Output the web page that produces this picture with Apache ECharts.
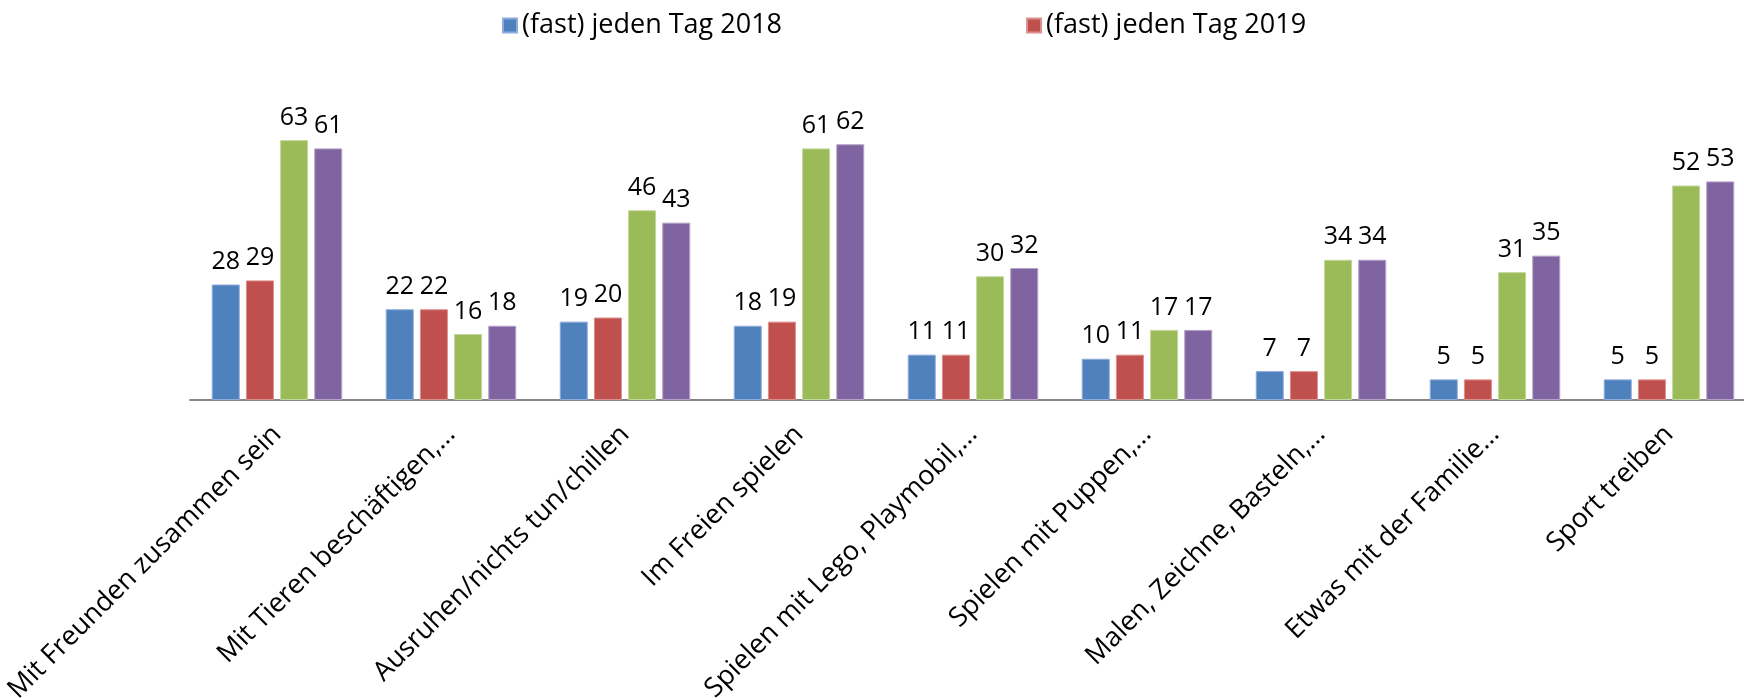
<!DOCTYPE html>
<html>
<head>
<meta charset="utf-8">
<script src="https://cdn.jsdelivr.net/npm/echarts@6/dist/echarts.min.js"></script>
<style>
  html, body { margin: 0; padding: 0; background: #fff; }
  #chart { width: 1744px; height: 698px; }
</style>
</head>
<body>
<div id="chart"></div>
<script>
// Kategorien (x-Achse)
const categories = [
    'Mit Freunden zusammen sein',
    'Mit Tieren beschäftigen,…',
    'Ausruhen/nichts tun/chillen',
    'Im Freien spielen',
    'Spielen mit Lego, Playmobil,…',
    'Spielen mit Puppen,…',
    'Malen, Zeichne, Basteln,…',
    'Etwas mit der Familie…',
    'Sport treiben'
];

// Werte je Reihe
const jedenTag2018 = [28, 22, 19, 18, 11, 10, 7, 5, 5];
const jedenTag2019 = [29, 22, 20, 19, 11, 11, 7, 5, 5];
const reihe3 = [63, 16, 46, 61, 30, 17, 34, 31, 52];
const reihe4 = [61, 18, 43, 62, 32, 17, 34, 35, 53];

const seriesNames = ['(fast) jeden Tag 2018', '(fast) jeden Tag 2019', 'Reihe 3', 'Reihe 4'];
const seriesColors = ['#4F81BD', '#C0504D', '#9BBB59', '#8064A2'];
const seriesBorders = ['#8FAADC', '#DC8F8D', '#C3D69B', '#B3A2C7'];
const seriesData = [jedenTag2018, jedenTag2019, reihe3, reihe4];

var chart = echarts.init(document.getElementById('chart'));

var series = seriesData.map(function (values, i) {
    return {
        name: seriesNames[i],
        type: 'bar',
        data: values,
        barWidth: 28,
        barGap: '22%',
        itemStyle: {
            color: seriesColors[i],
            borderColor: seriesBorders[i],
            borderWidth: 1
        },
        label: {
            show: true,
            position: 'top',
            distance: 10,
            color: '#000',
            fontFamily: 'Open Sans',
            fontSize: 25
        }
    };
});

var option = {
    animation: false,
    legend: {
        data: seriesNames.slice(0, 2),
        top: 7,
        left: 497,
        itemWidth: 14,
        itemHeight: 14,
        itemGap: 244,
        icon: 'rect',
        textStyle: {
            fontFamily: 'Open Sans',
            fontSize: 27,
            color: '#000'
        }
    },
    grid: {
        left: 190,
        right: -12,
        top: 70,
        bottom: 298,
        outerBoundsMode: 'none'
    },
    xAxis: {
        type: 'category',
        data: categories,
        axisLine: { lineStyle: { color: '#868686', width: 2 } },
        axisTick: { show: false },
        axisLabel: {
            interval: 0,
            rotate: 45,
            margin: 30,
            color: '#000',
            fontFamily: 'Open Sans',
            fontSize: 27
        }
    },
    yAxis: {
        type: 'value',
        min: 0,
        max: 80,
        show: false,
        splitLine: { show: false }
    },
    series: series
};

chart.setOption(option);
</script>
</body>
</html>
